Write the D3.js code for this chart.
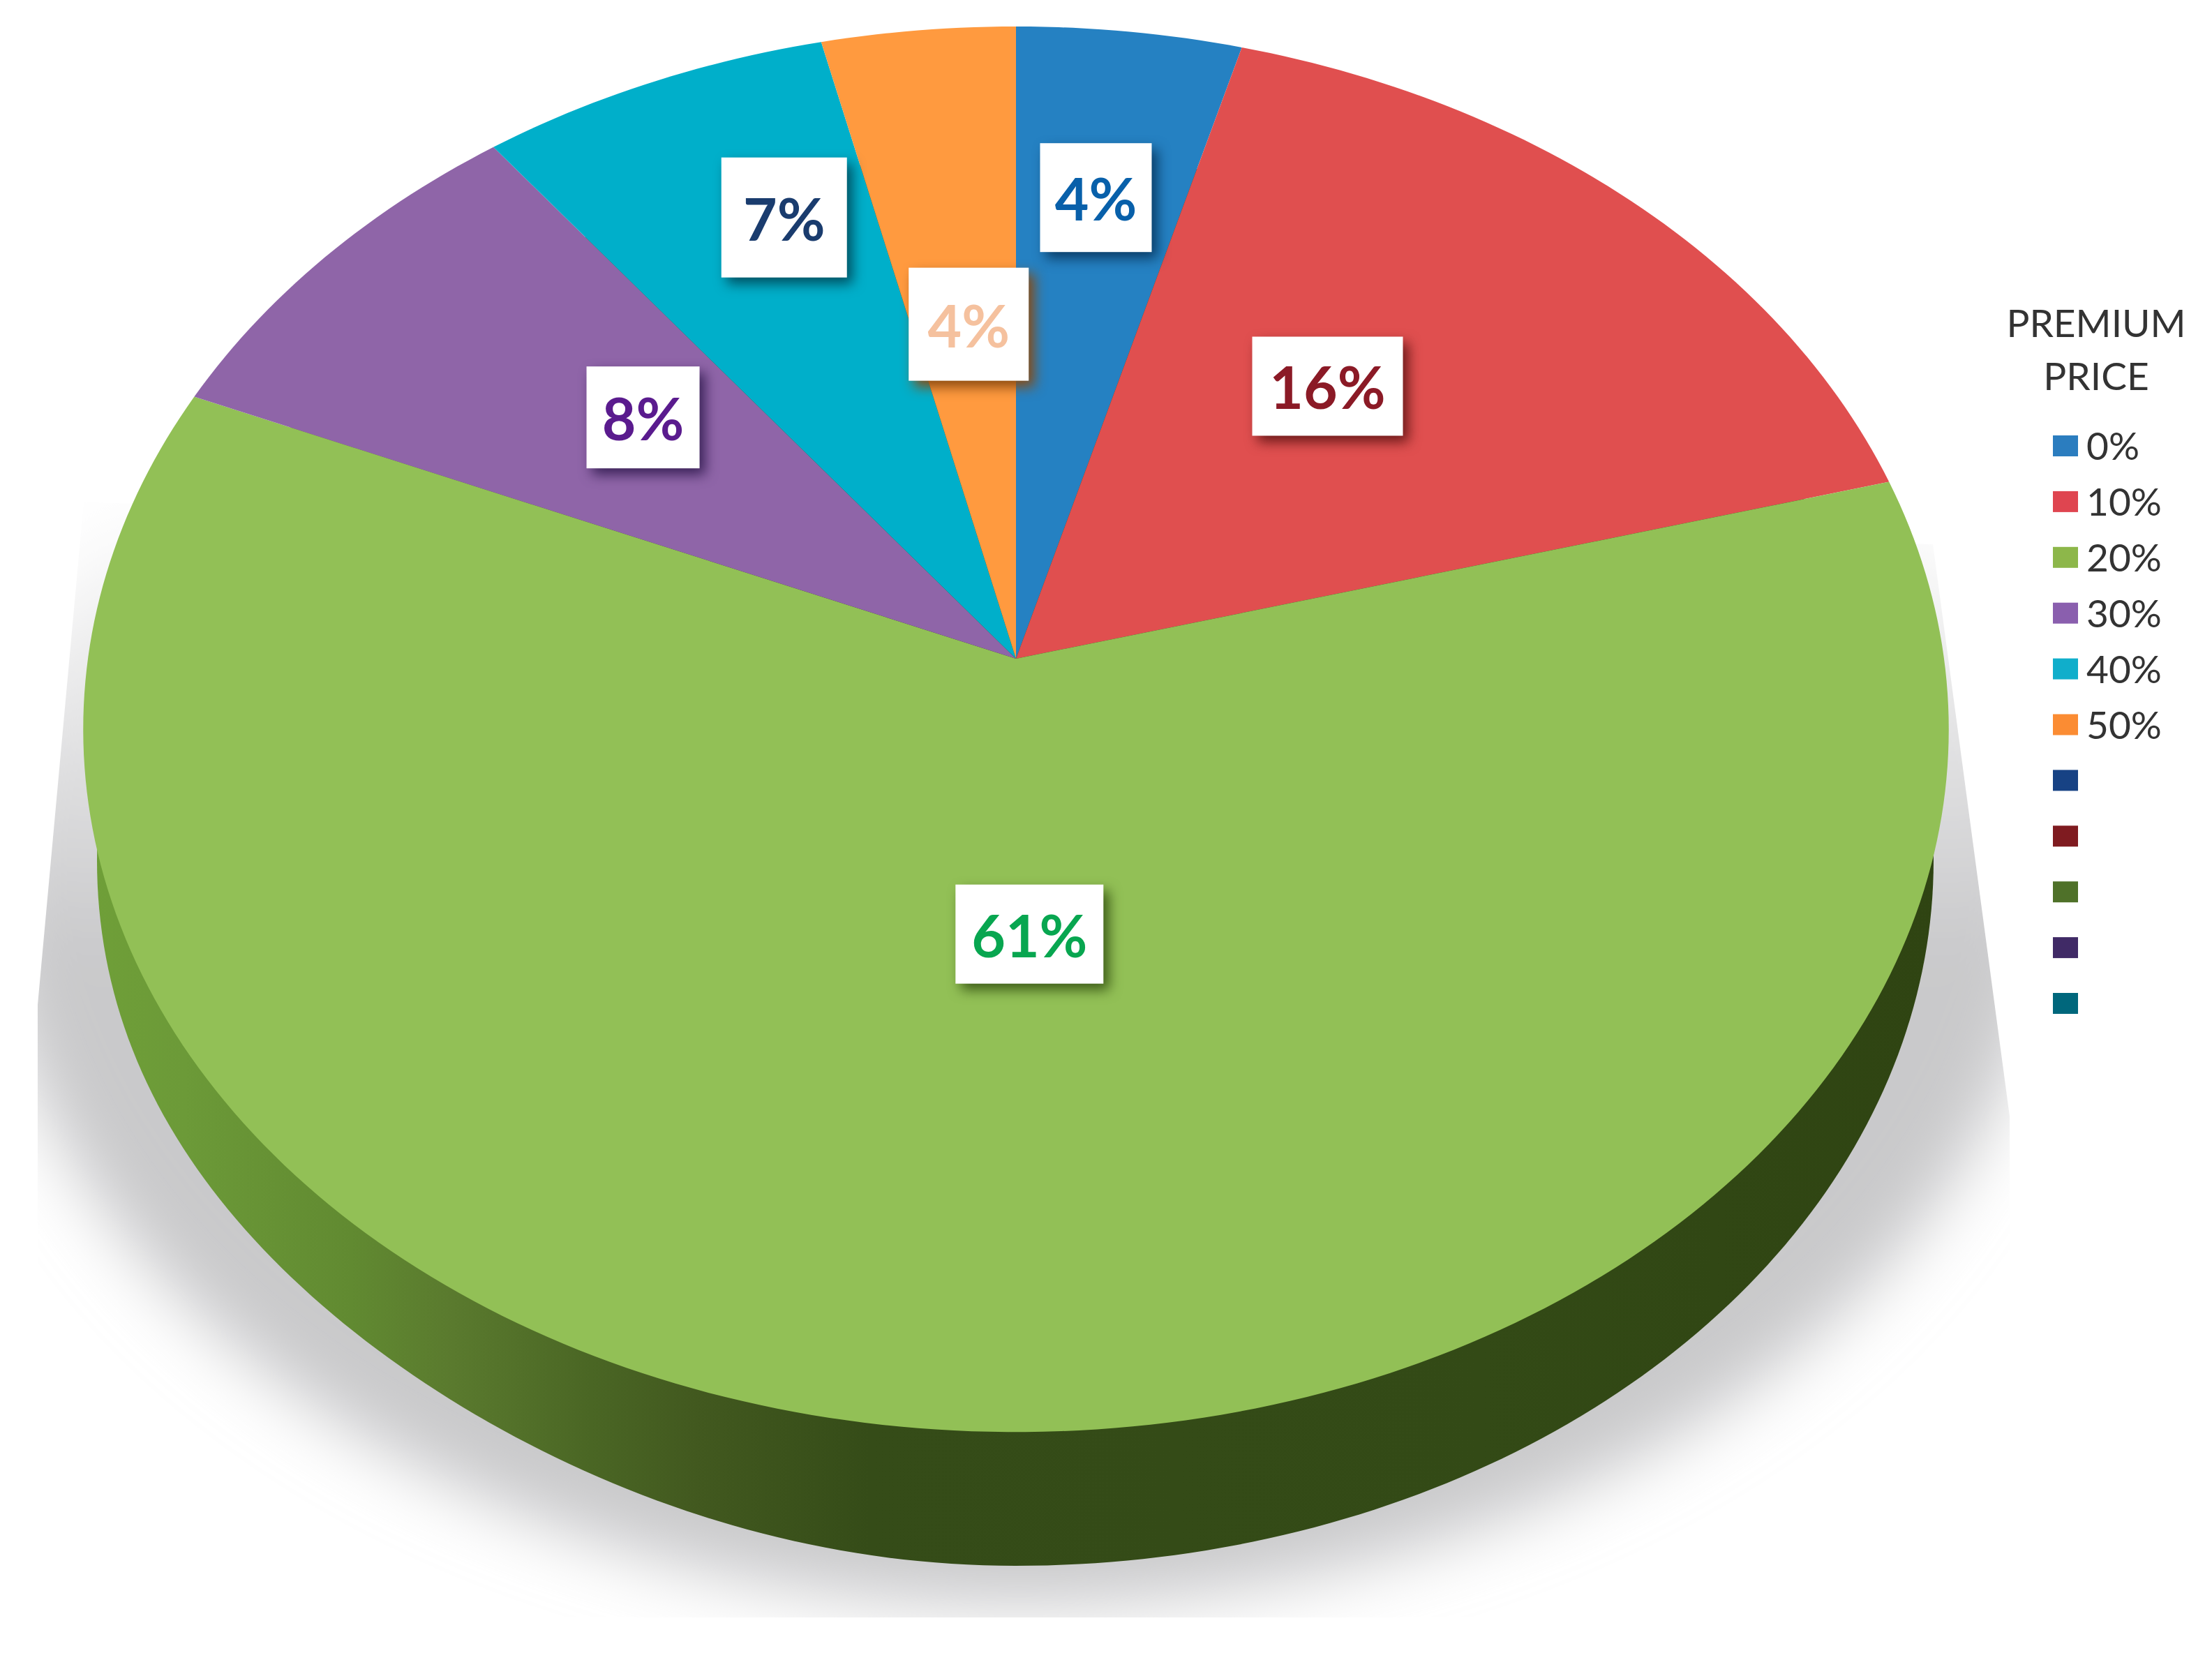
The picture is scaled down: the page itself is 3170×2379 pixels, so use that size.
<!DOCTYPE html>
<html><head><meta charset="utf-8">
<script src="https://cdn.jsdelivr.net/npm/d3@7"></script>
<style>html,body{margin:0;padding:0;background:#fff}svg{display:block}text{font-family:Lato,"Open Sans",sans-serif}</style>
</head><body><script>
const categories = ["0%","10%","20%","30%","40%","50%"];
const values = [4.3,16.5,60.6,8.2,6.7,3.7];
const valueLabels = ["4%","16%","61%","8%","7%","4%"];
const sliceColors = ["#2581c2","#e04f4f","#92c056","#8f65a8","#00afca","#ff9a3f"];
const labelColors = ["#0860aa","#8b1a26","#08a650","#5a1b8e","#1a3c6e","#f5c19e"];
const shadowColors = ["#0a3c66","#6b1a1a","#3d5c18","#3a2258","#004f60","#8a4a10"];
const legendTitle = ["PREMIUM","PRICE"];
const legendEntries = ["0%","10%","20%","30%","40%","50%","","","","",""];
const legendColors = ["#2b7dbf","#df4550","#8db74a","#8a5fae","#10aecb","#fb8c33","#174284","#7f1b20","#4f7129","#402a66","#00677c"];
// label layout: position inside the disc (fraction of radius, degrees clockwise from 12 o'clock), box size
const labelRadius = [.716,.537,.381,.55,.728,.508];
const labelAngle = [7.4,40.6,177.9,310.8,338.5,353.95];
const labelBoxW = [160,216,212,162,180,172];
const labelBoxH = [156,142,142,146,172,162];

const W=3170,H=2379;
const apex={x:1456,y:944}, A=997, B=1330, K=0.1004;
// perspective view of the unit disc (x right, y toward the back)
const project=(x,y)=>[apex.x+B*x/(1+K*y), apex.y-A*y/(1+K*y)];
const polar=(r,t)=>project(r*Math.sin(t),r*Math.cos(t));

const svg=d3.select("body").append("svg").attr("width",W).attr("height",H).attr("viewBox",`0 0 ${W} ${H}`);
const defs=svg.append("defs");
defs.append("filter").attr("id","soft").attr("x","-20%").attr("y","-20%").attr("width","140%").attr("height","140%")
  .append("feGaussianBlur").attr("stdDeviation",48);
defs.append("clipPath").attr("id","shadowClip").append("path")
  .attr("d",d3.line()([[120,720],[54,1440],[54,2318],[2880,2318],[2880,1600],[2770,780]])+"Z");
const wg=defs.append("linearGradient").attr("id","wall").attr("gradientUnits","userSpaceOnUse")
  .attr("x1",130).attr("x2",2790).attr("y1",0).attr("y2",0);
[[0,"#6f9f38"],[.05,"#6c9a38"],[.14,"#618a31"],[.195,"#5a7a2e"],[.27,"#4a6624"],[.326,"#42591f"],[.42,"#354c18"],[.75,"#334a16"],[1,"#2f4412"]]
  .forEach(([o,c])=>wg.append("stop").attr("offset",o).attr("stop-color",c));
const sg=defs.append("linearGradient").attr("id","shadowFill").attr("x1",0).attr("x2",0).attr("y1",0).attr("y2",1);
[[0,"#ffffff"],[.25,"#ffffff"],[.56,"#c9c9cb"],[1,"#c9c9cb"]]
  .forEach(([o,c])=>sg.append("stop").attr("offset",o).attr("stop-color",c));

const line=d3.line();
const ringAngles=d3.range(0,361,1).map(d=>d*Math.PI/180);

// cast shadow
svg.append("g").attr("clip-path","url(#shadowClip)")
  .append("ellipse").attr("cx",1460).attr("cy",1240).attr("rx",1480).attr("ry",1060)
  .attr("fill","url(#shadowFill)").attr("filter","url(#soft)");

// side wall (its lower-left run is a little flatter than the lower-right one)
const wall={cx:1455,cy:1233,rx:1316,ry:1011,flatten:26};
svg.append("path").attr("fill","url(#wall)")
  .attr("d",line(ringAngles.map(t=>{
    const lowerLeft=Math.sin(t)<0&&Math.cos(t)<0;
    return [wall.cx+wall.rx*Math.sin(t),wall.cy-wall.ry*Math.cos(t)-(lowerLeft?wall.flatten*Math.sin(2*t)**2:0)];
  }))+"Z");

// top face
const pie=d3.pie().sort(null).value(d=>d)(values);
svg.append("g").selectAll("path").data(pie).join("path")
  .attr("fill",(d,i)=>sliceColors[i])
  .attr("d",d=>{
    const n=Math.max(2,Math.ceil((d.endAngle-d.startAngle)*180/Math.PI));
    const pts=d3.range(n+1).map(j=>polar(1,d.startAngle+(d.endAngle-d.startAngle)*j/n));
    return line([[apex.x,apex.y],...pts])+"Z";
  });

// value labels
const lab=svg.append("g").selectAll("g").data(valueLabels).join("g")
  .attr("transform",(d,i)=>{const p=polar(labelRadius[i],labelAngle[i]*Math.PI/180);return `translate(${p[0]},${p[1]})`;});
lab.append("rect").attr("x",(d,i)=>-labelBoxW[i]/2).attr("y",(d,i)=>-labelBoxH[i]/2)
  .attr("width",(d,i)=>labelBoxW[i]).attr("height",(d,i)=>labelBoxH[i]).attr("fill","#fff")
  .style("filter",(d,i)=>`drop-shadow(8px 9px 9px ${shadowColors[i]})`);
lab.append("text").text(d=>d).attr("text-anchor","middle").attr("y",33)
  .attr("font-size",84).attr("font-weight",700).attr("fill",(d,i)=>labelColors[i]);

// legend
svg.append("g").selectAll("text").data(legendTitle).join("text").text(d=>d)
  .attr("x",3004).attr("y",(d,i)=>483+i*76).attr("text-anchor","middle")
  .attr("font-size",55).attr("fill","#333");
const rowY=d3.scalePoint().domain(d3.range(legendEntries.length)).range([639,1438]);
const row=svg.append("g").selectAll("g").data(legendEntries).join("g")
  .attr("transform",(d,i)=>`translate(0,${rowY(i)})`);
row.append("rect").attr("x",2942).attr("y",-15).attr("width",36).attr("height",30)
  .attr("fill",(d,i)=>legendColors[i]);
row.append("text").text(d=>d).attr("x",2990).attr("y",20).attr("font-size",55).attr("fill","#333");
</script></body></html>
